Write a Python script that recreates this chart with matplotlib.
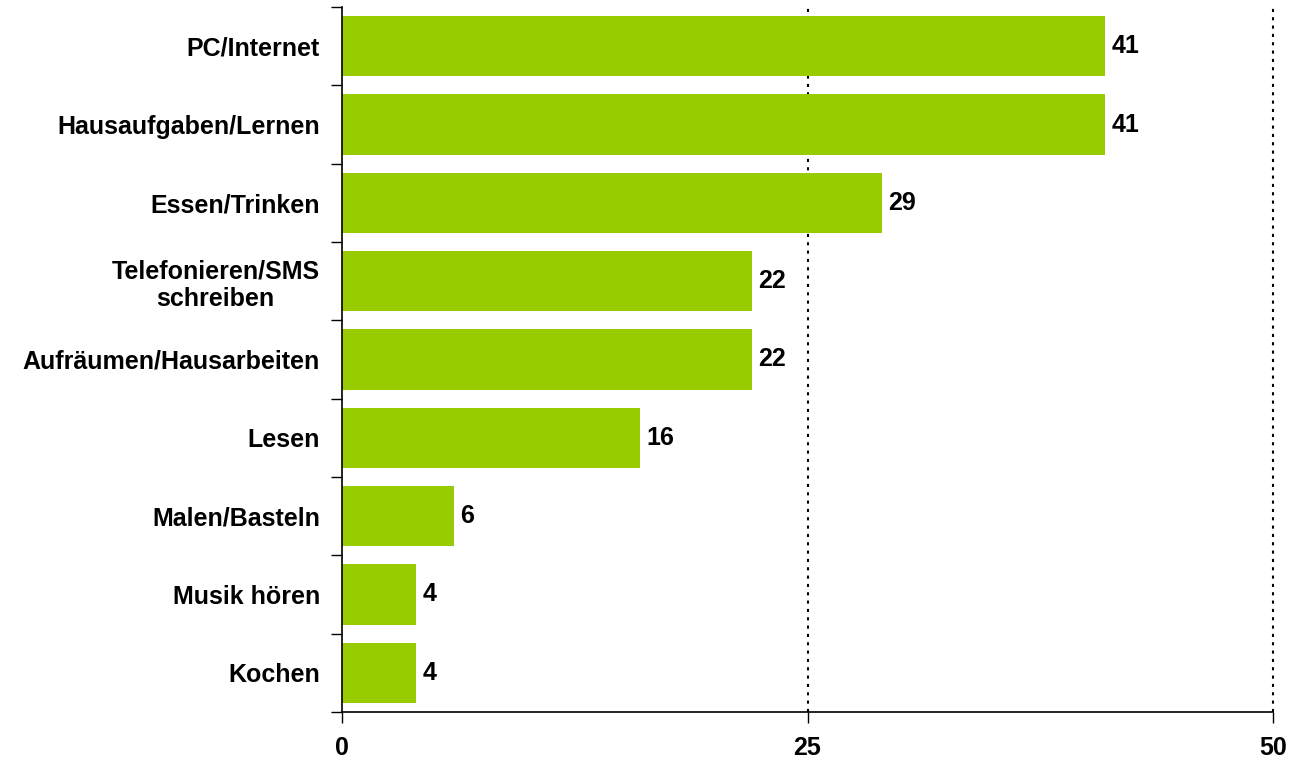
import matplotlib
matplotlib.use("Agg")
import matplotlib.pyplot as plt
import numpy as np

categories = ["PC/Internet", "Hausaufgaben/Lernen", "Essen/Trinken",
              "Telefonieren/SMS\nschreiben", "Aufräumen/Hausarbeiten", "Lesen",
              "Malen/Basteln", "Musik hören", "Kochen"]
values = [41, 41, 29, 22, 22, 16, 6, 4, 4]
xticks = [0, 25, 50]

plt.rcParams['font.family'] = ['Liberation Sans', 'DejaVu Sans']
FS = 18

fig = plt.figure(figsize=(13.03, 7.61), dpi=100)
ax = fig.add_axes([342/1303, 49/761, (1273-342)/1303, (712-7)/761])

n = len(categories)
y = np.arange(n)
ax.barh(y, values, height=0.77, color="#99CC00", zorder=2)
ax.set_ylim(n - 0.5, -0.5)
ax.set_xlim(0, 50)

for yi, v in zip(y, values):
    ax.text(v + 0.35, yi, str(v), va="center", ha="left",
            fontsize=FS, fontweight="bold", color="black")

ax.set_yticks(y)
ax.set_yticklabels(categories, fontsize=FS, fontweight="bold")
for lab in ax.get_yticklabels():
    lab.set_multialignment("center")
ax.set_yticks(np.arange(-0.5, n, 1), minor=True)
ax.tick_params(axis="y", which="major", length=0, pad=16)
ax.tick_params(axis="y", which="minor", length=8, width=1, direction="out")

ax.set_xticks(xticks)
ax.set_xticklabels([str(t) for t in xticks], fontsize=FS, fontweight="bold")
ax.tick_params(axis="x", which="major", length=8, width=1, direction="out", pad=9)

for t in xticks[1:]:
    ax.axvline(t, color="black", linestyle=(0, (1.5, 2.5)), linewidth=1.5,
               zorder=1, clip_on=False)

ax.spines["top"].set_visible(False)
ax.spines["right"].set_visible(False)
ax.spines["left"].set_linewidth(1.2)
ax.spines["bottom"].set_linewidth(1.2)

fig.savefig("out.png", dpi=100)
